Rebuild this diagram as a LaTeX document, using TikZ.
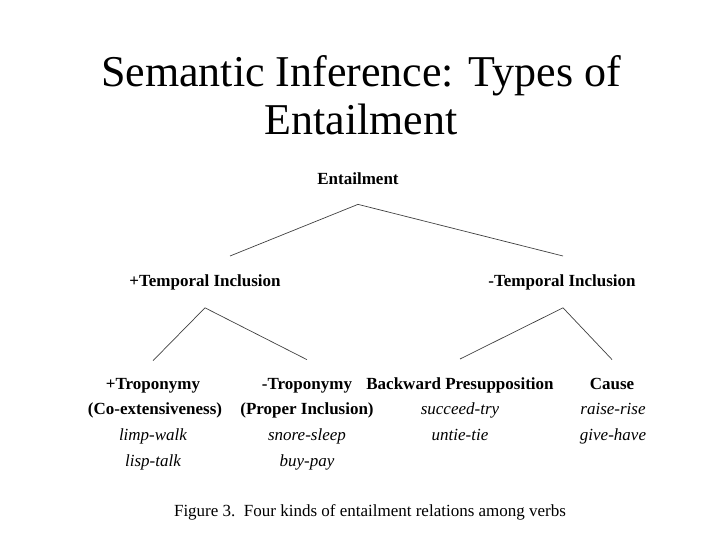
\documentclass[tikz,border=0pt]{standalone}
\usepackage{fontspec}
\setmainfont{Liberation Serif}
\begin{document}
\begin{tikzpicture}[x=1pt,y=-1pt,
  lab/.style={inner sep=0pt,anchor=base,font=\fontsize{17}{20}\selectfont\bfseries},
  ex/.style={inner sep=0pt,anchor=base,font=\fontsize{17}{20}\selectfont\itshape},
  edge/.style={draw=black!75,line width=0.7pt}]
\useasboundingbox (0,0) rectangle (720,540);
\node[inner sep=0pt,anchor=base,font=\fontsize{44}{48}\selectfont] (t1) at (361,87) {Semantic Inference: Types of};
\node[inner sep=0pt,anchor=base,font=\fontsize{44}{48}\selectfont] (t2) at (361,135) {Entailment};
\node[lab] (ent) at (358,185) {Entailment};
\node[lab] (pti) at (205,286) {+Temporal Inclusion};
\node[lab] (mti) at (562,286) {-Temporal Inclusion};
\node[lab] (ptr) at (153,389) {+Troponymy};
\node[lab] (mtr) at (307,389) {-Troponymy};
\node[lab] (bp) at (460,389) {Backward Presupposition};
\node[lab] (ca) at (612,389) {Cause};
\node[lab] (coe) at (155,414) {(Co-extensiveness)};
\node[lab] (pin) at (307,414) {(Proper Inclusion)};
\node[ex] (st) at (460,414) {succeed-try};
\node[ex] (rr) at (613,414) {raise-rise};
\node[ex] (lw) at (153,440) {limp-walk};
\node[ex] (ss) at (307,440) {snore-sleep};
\node[ex] (ut) at (460,440) {untie-tie};
\node[ex] (gh) at (613,440) {give-have};
\node[ex] (lt) at (153,466) {lisp-talk};
\node[ex] (bup) at (307,466) {buy-pay};
\node[inner sep=0pt,anchor=base,font=\fontsize{17}{20}\selectfont] (cap) at (370,516) {Figure 3.\ \ Four kinds of entailment relations among verbs};
\coordinate (a0) at ([yshift=-19pt]ent.south);
\coordinate (a1) at ([xshift=25pt,yshift=18pt]pti.north);
\coordinate (a2) at ([xshift=1pt,yshift=18pt]mti.north);
\coordinate (b0) at ([yshift=-18pt]pti.south);
\coordinate (b1) at ([yshift=17pt]ptr.north);
\coordinate (b2) at ([yshift=18pt]mtr.north);
\coordinate (c0) at ([xshift=1pt,yshift=-18pt]mti.south);
\coordinate (c1) at ([yshift=18pt]bp.north);
\coordinate (c2) at ([yshift=18pt]ca.north);
\draw[edge] (a1) -- (a0) -- (a2);
\draw[edge] (b1) -- (b0) -- (b2);
\draw[edge] (c1) -- (c0) -- (c2);
\end{tikzpicture}
\end{document}
